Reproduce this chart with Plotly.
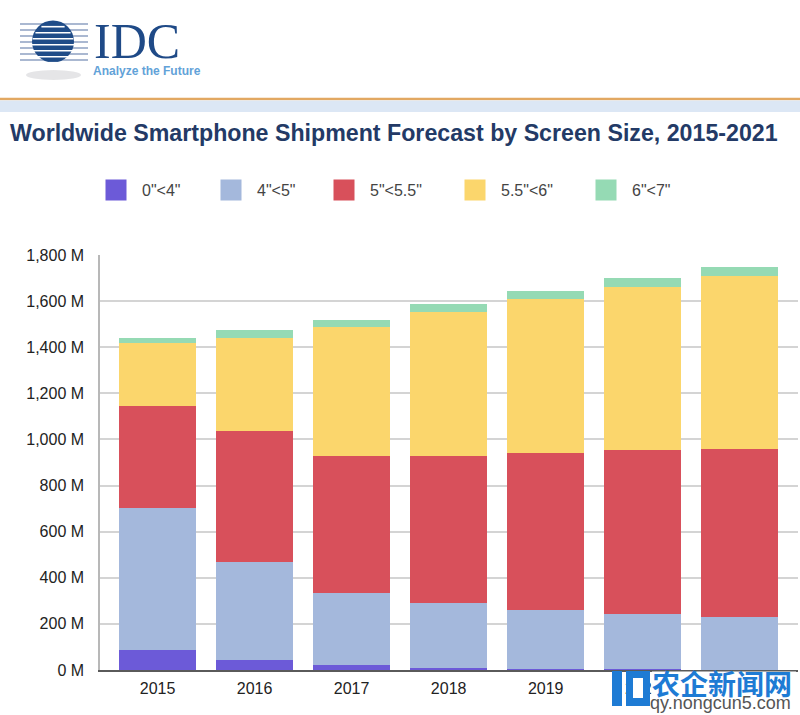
import math
import plotly.graph_objects as go

# ---------------- data ----------------
years = ["2015", "2016", "2017", "2018", "2019", "2020", "2021"]
size_0_4 = [87, 45, 20, 10, 5, 3, 2]
size_4_5 = [614, 424, 315, 279, 255, 239, 227]
size_5_55 = [446, 568, 593, 641, 680, 712, 731]
size_55_6 = [272, 405, 559, 624, 670, 709, 751]
size_6_7 = [20, 33, 31, 34, 34, 36, 36]
series_names = ['0"<4"', '4"<5"', '5"<5.5"', '5.5"<6"', '6"<7"']
series_colors = ["#6c5ad8", "#a4b8dc", "#d8505b", "#fbd66c", "#95dab4"]
y_tick_values = [0, 200, 400, 600, 800, 1000, 1200, 1400, 1600, 1800]
y_tick_labels = ["0 M", "200 M", "400 M", "600 M", "800 M", "1,000 M",
                 "1,200 M", "1,400 M", "1,600 M", "1,800 M"]
title_text = "Worldwide Smartphone Shipment Forecast by Screen Size, 2015-2021"

series_values = [size_0_4, size_4_5, size_5_55, size_55_6, size_6_7]

# ---------------- geometry helpers (pixels -> paper) ----------------
W, H = 800, 715
PL, PR, PT, PB = 100, 798, 255, 670


def fx(x):
    return (x - PL) / (PR - PL)


def fy(y):
    return (PB - y) / (PB - PT)


FONT = "Liberation Sans, Arial, sans-serif"

fig = go.Figure()

for name, vals, col in zip(series_names, series_values, series_colors):
    fig.add_trace(go.Bar(x=years, y=vals, name=name, marker=dict(color=col, line=dict(width=0)),
                         showlegend=False))

# legend entries (one legend per item, placed like the reference)
legend_sq_centers = [116, 231, 344, 475, 606]
legend_keys = ["legend", "legend2", "legend3", "legend4", "legend5"]
for name, col, key in zip(series_names, series_colors, legend_keys):
    fig.add_trace(go.Scatter(x=[None], y=[None], mode="markers", name=name, legend=key,
                             marker=dict(symbol="square", size=16, color=col,
                                         line=dict(width=5, color=col))))

legend_layout = {}
for key, cx in zip(legend_keys, legend_sq_centers):
    legend_layout[key] = dict(
        x=fx(cx - 26), y=fy(190), xanchor="left", yanchor="middle",
        orientation="h", bgcolor="rgba(0,0,0,0)", borderwidth=0,
        font=dict(family=FONT, size=16, color="#444444"), itemwidth=42,
    )

shapes = []
# orange rule and light blue band
shapes.append(dict(type="line", xref="paper", yref="paper", x0=fx(0), x1=fx(800),
                   y0=fy(99), y1=fy(99), line=dict(color="#e2a862", width=2.5)))
shapes.append(dict(type="rect", xref="paper", yref="paper", x0=fx(0), x1=fx(800),
                   y0=fy(100.5), y1=fy(112), fillcolor="#dce7f5", line=dict(width=0)))

# IDC globe logo
gcx, gcy, gr = 53, 41.5, 21
shapes.append(dict(type="circle", xref="paper", yref="paper", x0=fx(gcx - 27), x1=fx(gcx + 28),
                   y0=fy(70), y1=fy(80), fillcolor="rgba(160,160,170,0.28)", line=dict(width=0)))
stripe_ys = [24, 30, 36, 42, 48, 54, 60]
for sy in stripe_ys:
    shapes.append(dict(type="line", xref="paper", yref="paper", x0=fx(20), x1=fx(88),
                       y0=fy(sy), y1=fy(sy), line=dict(color="#8ea0c2", width=1.5)))
shapes.append(dict(type="circle", xref="paper", yref="paper", x0=fx(gcx - gr), x1=fx(gcx + gr),
                   y0=fy(gcy + gr), y1=fy(gcy - gr), fillcolor="#1f4c88", line=dict(width=0)))
for sy in stripe_ys:
    dy = sy - gcy
    if abs(dy) < gr - 1:
        hw = math.sqrt(gr * gr - dy * dy)
        shapes.append(dict(type="line", xref="paper", yref="paper", x0=fx(gcx - hw), x1=fx(gcx + hw),
                           y0=fy(sy + 2.7), y1=fy(sy + 2.7), line=dict(color="#ffffff", width=1.6)))

# watermark backdrop (hides the axis labels beneath it, as in the reference)
shapes.append(dict(type="rect", xref="paper", yref="paper", x0=fx(652), x1=fx(796),
                   y0=fy(697), y1=fy(671.5), fillcolor="#ffffff", line=dict(width=0), layer="above"))
# watermark icon (rough)
shapes.append(dict(type="rect", xref="paper", yref="paper", x0=fx(612), x1=fx(622),
                   y0=fy(706), y1=fy(671), fillcolor="#1e7bd4", line=dict(width=0), layer="above"))
shapes.append(dict(type="rect", xref="paper", yref="paper", x0=fx(626), x1=fx(650),
                   y0=fy(706), y1=fy(671), fillcolor="#1e7bd4", line=dict(width=0), layer="above"))
shapes.append(dict(type="rect", xref="paper", yref="paper", x0=fx(633), x1=fx(643),
                   y0=fy(698), y1=fy(678), fillcolor="#ffffff", line=dict(width=0), layer="above"))

annotations = [
    dict(text="IDC", xref="paper", yref="paper", x=fx(92), y=fy(41), xanchor="left", yanchor="middle",
         showarrow=False, font=dict(family="Liberation Serif, Times New Roman, serif", size=50, color="#1f4a87")),
    dict(text="<b>Analyze the Future</b>", xref="paper", yref="paper", x=fx(91), y=fy(71),
         xanchor="left", yanchor="middle", showarrow=False,
         font=dict(family=FONT, size=12, color="#62a2d8")),
    dict(text="<b>农企新闻网</b>", xref="paper", yref="paper", x=fx(722), y=fy(683),
         xanchor="center", yanchor="middle", showarrow=False,
         font=dict(family="Noto Sans CJK SC", size=28, color="#1e7bd4")),
    dict(text="qy.nongcun5.com", xref="paper", yref="paper", x=fx(720), y=fy(703),
         xanchor="center", yanchor="middle", showarrow=False,
         font=dict(family=FONT, size=18, color="#555555")),
]

fig.update_layout(
    width=W, height=H, autosize=False,
    margin=dict(l=PL, r=W - PR, t=PT, b=H - PB, pad=0),
    paper_bgcolor="white", plot_bgcolor="white",
    barmode="stack", bargap=0.207,
    title=dict(text="<b>" + title_text + "</b>", xref="container", yref="container",
               x=10 / W, xanchor="left", y=1 - 133 / H, yanchor="middle",
               font=dict(family=FONT, size=23.2, color="#233a66")),
    xaxis=dict(type="category", range=[-0.593, 6.6], showgrid=False, showline=True,
               linecolor="#5a5a5a", linewidth=1.5, ticks="", ticklabelstandoff=3,
               tickfont=dict(family=FONT, size=16, color="#222222"), fixedrange=True),
    yaxis=dict(range=[0, 1800], tickvals=y_tick_values, ticktext=y_tick_labels,
               showgrid=True, gridcolor="#d4d4d4", gridwidth=1.5, zeroline=False,
               showline=True, linecolor="#b8b8b8", linewidth=1.5, ticks="",
               ticklabelstandoff=11, tickfont=dict(family=FONT, size=16, color="#222222")),
    shapes=shapes,
    annotations=annotations,
    **legend_layout,
)

fig.write_html("out.html", config={"displayModeBar": False},
               post_script="document.body.style.margin='0';document.body.style.overflow='hidden';")
